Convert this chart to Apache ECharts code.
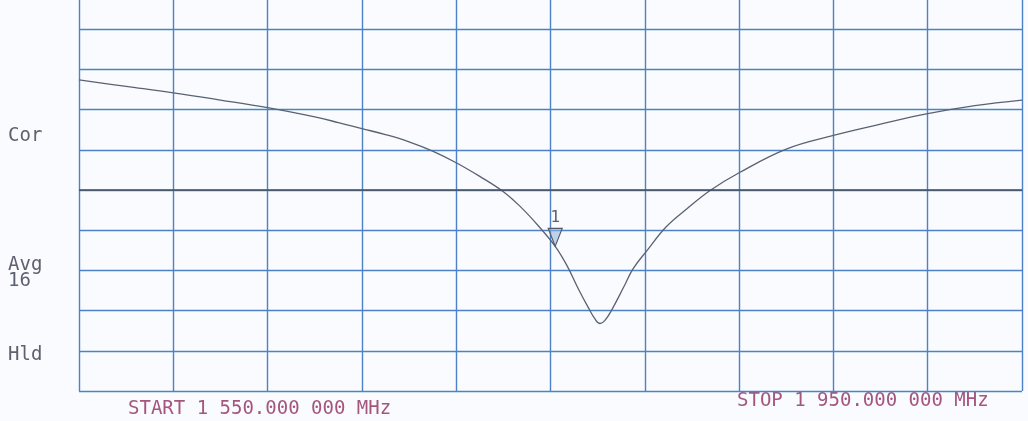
<!DOCTYPE html>
<html>
<head>
<meta charset="utf-8">
<script src="https://cdn.jsdelivr.net/npm/echarts@6/dist/echarts.min.js"></script>
<style>
html,body{margin:0;padding:0;background:#f9fbfe;}
#chart{width:1028px;height:421px;}
</style>
</head>
<body>
<div id="chart"></div>
<script>
// Frequency (MHz) and trace level (divisions relative to reference line)
const freqs  = [1550,1570,1590,1610,1630,1650,1660,1670,1680,1690,1700,1710,1720,1730,1737,1745,1752,1757,1762,1766,1769,1771,1773,1776,1781,1785,1791,1799,1808,1818,1830,1850,1870,1890,1910,1930,1950];
const levels = [2.74,2.58,2.42,2.24,2.05,1.82,1.68,1.53,1.38,1.20,0.97,0.68,0.34,-0.04,-0.40,-0.90,-1.40,-1.88,-2.48,-2.92,-3.22,-3.32,-3.25,-2.98,-2.42,-1.96,-1.50,-0.92,-0.46,0.00,0.43,1.02,1.36,1.64,1.90,2.10,2.24];
const markerFreq = 1752;
const markerLevel = -1.40;
const markerLabel = '1';
const startLabel = 'START 1 550.000 000 MHz';
const stopLabel = 'STOP 1 950.000 000 MHz';
const sideLabels = ['Cor', 'Avg', '16', 'Hld'];

const gridBlue = '#4d82c6';
const chart = echarts.init(document.getElementById('chart'));
const monoFont = '19px "DejaVu Sans Mono", monospace';

chart.setOption({
  backgroundColor: '#f9fbfe',
  animation: false,
  grid: {left: 79, right: 6, top: 0, bottom: 30, show: false},
  xAxis: {
    type: 'value', min: 1550, max: 1950, interval: 40,
    axisLine: {show: false}, axisTick: {show: false}, axisLabel: {show: false},
    splitLine: {show: true, lineStyle: {color: gridBlue, width: 1.4}}
  },
  yAxis: {
    type: 'value', min: -5, max: 4.73, interval: 1,
    axisLine: {show: false}, axisTick: {show: false}, axisLabel: {show: false},
    splitLine: {show: true, showMaxLine: false, lineStyle: {color: gridBlue, width: 1.4}}
  },
  graphic: [
    {type: 'text', left: 8, top: 127, style: {text: sideLabels[0], font: monoFont, fill: '#5d6170'}},
    {type: 'text', left: 8, top: 256, style: {text: sideLabels[1], font: monoFont, fill: '#5d6170'}},
    {type: 'text', left: 8, top: 272, style: {text: sideLabels[2], font: monoFont, fill: '#5d6170'}},
    {type: 'text', left: 8, top: 346, style: {text: sideLabels[3], font: monoFont, fill: '#5d6170'}},
    {type: 'text', left: 128, top: 400, style: {text: startLabel, font: monoFont, fill: '#a5567f'}},
    {type: 'text', left: 737, top: 392, style: {text: stopLabel, font: monoFont, fill: '#a5567f'}}
  ],
  series: [{
    type: 'line',
    data: freqs.map((f, i) => [f, levels[i]]),
    smooth: 0.4,
    showSymbol: false,
    lineStyle: {color: '#5a6272', width: 1.3},
    markLine: {
      silent: true, symbol: 'none', animation: false,
      label: {show: false},
      lineStyle: {color: '#4a4c52', width: 1.6, type: 'solid'},
      data: [{yAxis: 0}]
    },
    markPoint: {
      silent: true,
      data: [{coord: [markerFreq, markerLevel]}],
      symbol: 'triangle', symbolRotate: 180, symbolSize: [14, 18], symbolOffset: [0, -9],
      itemStyle: {color: 'rgba(140,175,220,0.55)', borderColor: '#565a66', borderWidth: 1.2},
      label: {show: true, position: 'top', distance: 2, formatter: markerLabel, color: '#5d6170', fontSize: 16, fontFamily: '"DejaVu Sans Mono", monospace'}
    }
  }]
});
</script>
</body>
</html>
